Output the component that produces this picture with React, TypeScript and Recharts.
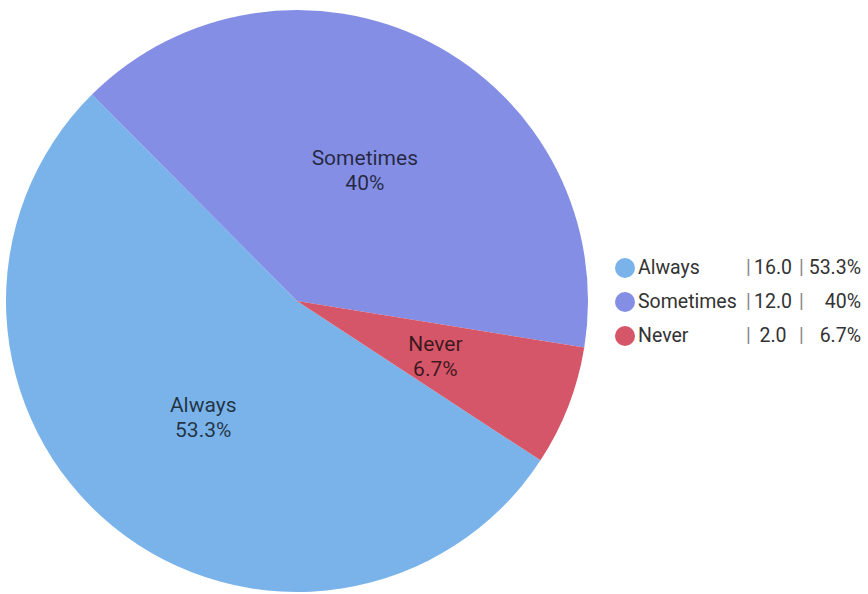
import React from 'react'
import { PieChart, Pie, Cell, Legend } from 'recharts'

const categories = ['Always', 'Sometimes', 'Never']
const counts = [16.0, 12.0, 2.0]
const percentLabels = ['53.3%', '40%', '6.7%']
const colors = ['#7AB3EA', '#848EE4', '#D45668']

const data = categories.map((name, i) => ({
  name,
  value: counts[i],
  pct: percentLabels[i],
}))

const RADIAN = Math.PI / 180

const SliceLabel = ({ cx, cy, midAngle, outerRadius, index }: any) => {
  const r = outerRadius * 0.51
  const x = cx + r * Math.cos(-midAngle * RADIAN)
  const y = cy + r * Math.sin(-midAngle * RADIAN)
  return (
    <text
      x={x}
      y={y}
      textAnchor="middle"
      fill="#000"
      fillOpacity={0.72}
      fontSize={21}
      fontFamily="Roboto"
    >
      <tspan x={x} dy={-4}>{categories[index]}</tspan>
      <tspan x={x} dy={25}>{percentLabels[index]}</tspan>
    </text>
  )
}

const LegendBox = () => (
  <div style={{ fontFamily: 'Roboto', fontSize: 19.5, color: '#333' }}>
    {data.map((d, i) => (
      <div key={d.name} style={{ position: 'relative', height: 34, width: 250 }}>
        <span style={{
          position: 'absolute', left: 0, top: 7, width: 20, height: 20,
          borderRadius: 10, background: colors[i],
        }} />
        <span style={{ position: 'absolute', left: 23, top: 4, lineHeight: '26px' }}>{d.name}</span>
        <span style={{ position: 'absolute', left: 131, top: 4, lineHeight: '26px', color: '#888' }}>|</span>
        <span style={{ position: 'absolute', left: 133, width: 50, top: 4, lineHeight: '26px', textAlign: 'center' }}>
          {d.value.toFixed(1)}
        </span>
        <span style={{ position: 'absolute', left: 184, top: 4, lineHeight: '26px', color: '#888' }}>|</span>
        <span style={{ position: 'absolute', right: 4, top: 4, lineHeight: '26px', textAlign: 'right' }}>
          {d.pct}
        </span>
      </div>
    ))}
  </div>
)

export default function App() {
  return (
    <div style={{ position: 'absolute', left: 0, top: 0, background: '#fff' }}>
      <PieChart width={868} height={594} margin={{ top: 0, right: 0, bottom: 0, left: 0 }}>
        <Pie
          data={data}
          dataKey="value"
          nameKey="name"
          cx={297}
          cy={301}
          outerRadius={291}
          startAngle={-33.2}
          endAngle={-393.2}
          stroke="none"
          label={SliceLabel}
          labelLine={false}
          isAnimationActive={false}
        >
          {data.map((d, i) => (
            <Cell key={d.name} fill={colors[i]} />
          ))}
        </Pie>
        <Legend
          content={<LegendBox />}
          wrapperStyle={{ position: 'absolute', left: 615, top: 251, width: 250, bottom: 'auto', right: 'auto' }}
        />
      </PieChart>
    </div>
  )
}
